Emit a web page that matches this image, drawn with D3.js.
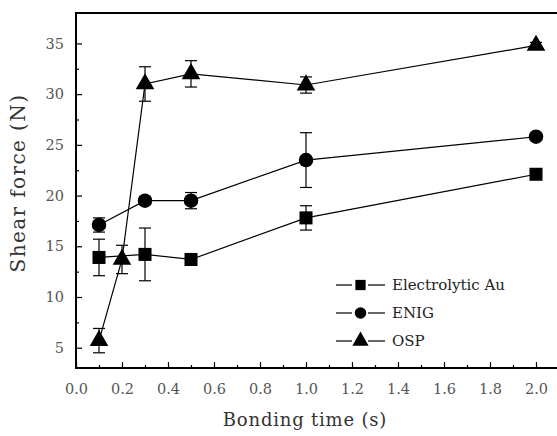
<!DOCTYPE html>
<html>
<head>
<meta charset="utf-8">
<script src="https://cdn.jsdelivr.net/npm/d3@7"></script>
<style>
  body { margin: 0; background: #fff; }
  #wrapper svg { display: block; }
</style>
</head>
<body>
<div id="wrapper"></div>
<script>
// Data
const seriesNames = ["Electrolytic Au", "ENIG", "OSP"]
const seriesShapes = ["square", "circle", "triangle"]

const auTime = [0.1, 0.3, 0.5, 1.0, 2.0]
const auForce = [13.9, 14.2, 13.7, 17.8, 22.1]
const auErr = [1.8, 2.6, 0.3, 1.2, 0.5]

const enigTime = [0.1, 0.3, 0.5, 1.0, 2.0]
const enigForce = [17.1, 19.5, 19.5, 23.5, 25.8]
const enigErr = [0.7, 0.4, 0.8, 2.7, 0.3]

const ospTime = [0.1, 0.2, 0.3, 0.5, 1.0, 2.0]
const ospForce = [5.7, 13.7, 31.0, 32.0, 30.9, 34.8]
const ospErr = [1.2, 1.4, 1.7, 1.3, 0.8, 0.3]

const xTicks = [0.0, 0.2, 0.4, 0.6, 0.8, 1.0, 1.2, 1.4, 1.6, 1.8, 2.0]
const yTicks = [5, 10, 15, 20, 25, 30, 35]

function drawChart() {
  const dms = {
    width: 557,
    height: 436,
    margin: { top: 13, right: -2, bottom: 68, left: 76 },
  }
  dms.boundedWidth = dms.width - dms.margin.left - dms.margin.right
  dms.boundedHeight = dms.height - dms.margin.top - dms.margin.bottom

  const font = "'DejaVu Serif', 'Liberation Serif', serif"

  const svg = d3.select("#wrapper").append("svg")
    .attr("width", dms.width)
    .attr("height", dms.height)

  const bounds = svg.append("g")
    .attr("transform", `translate(${dms.margin.left},${dms.margin.top})`)

  const xScale = d3.scaleLinear()
    .domain([0, 2.1])
    .range([0, dms.boundedWidth])

  const yScale = d3.scaleLinear()
    .domain([3, 38])
    .range([dms.boundedHeight, 0])

  // minor ticks
  const xMinor = d3.range(0.1, 2.1, 0.2)
  const yMinor = d3.range(2.5, 35, 5).filter(v => v > 3)

  const xAxis = bounds.append("g")
    .attr("transform", `translate(0,${dms.boundedHeight})`)
    .call(d3.axisBottom(xScale).tickValues(xTicks).tickFormat(d3.format(".1f"))
      .tickSizeInner(-6).tickSizeOuter(0).tickPadding(16))
  xAxis.select(".domain").remove()

  const xAxisMinor = bounds.append("g")
    .attr("transform", `translate(0,${dms.boundedHeight})`)
    .call(d3.axisBottom(xScale).tickValues(xMinor).tickFormat("")
      .tickSizeInner(-3).tickSizeOuter(0))
  xAxisMinor.select(".domain").remove()

  const yAxis = bounds.append("g")
    .call(d3.axisLeft(yScale).tickValues(yTicks).tickFormat(d3.format("d"))
      .tickSizeInner(-6).tickSizeOuter(0).tickPadding(12))
  yAxis.select(".domain").remove()

  const yAxisMinor = bounds.append("g")
    .call(d3.axisLeft(yScale).tickValues(yMinor).tickFormat("")
      .tickSizeInner(-3).tickSizeOuter(0))
  yAxisMinor.select(".domain").remove()

  bounds.selectAll(".tick line").attr("stroke", "#000").attr("stroke-width", 1.2)
  bounds.selectAll(".tick text")
    .attr("font-family", font)
    .attr("font-size", "14.5px")
    .attr("fill", "#555")

  // frame
  bounds.append("path")
    .attr("d", `M${xScale(2.1)},0 H0 V${dms.boundedHeight} H${xScale(2.1)}`)
    .attr("fill", "none")
    .attr("stroke", "#000")
    .attr("stroke-width", 2)

  const series = [
    { t: auTime, v: auForce, e: auErr },
    { t: enigTime, v: enigForce, e: enigErr },
    { t: ospTime, v: ospForce, e: ospErr },
  ]

  const symbolType = {
    square: d3.symbolSquare,
    circle: d3.symbolCircle,
    triangle: d3.symbolTriangle,
  }
  const symbolSize = { square: 170, circle: 165, triangle: 150 }

  const line = d3.line()
    .x(d => xScale(d.t))
    .y(d => yScale(d.v))

  series.forEach((s, i) => {
    const pts = s.t.map((t, j) => ({ t, v: s.v[j], e: s.e[j] }))
    const g = bounds.append("g")
    const shape = seriesShapes[i]

    g.append("path")
      .datum(pts)
      .attr("d", line)
      .attr("fill", "none")
      .attr("stroke", "#000")
      .attr("stroke-width", 1.2)

    const capW = 6
    const err = g.selectAll(".err").data(pts).join("g")
    err.append("line")
      .attr("x1", d => xScale(d.t)).attr("x2", d => xScale(d.t))
      .attr("y1", d => yScale(d.v - d.e)).attr("y2", d => yScale(d.v + d.e))
      .attr("stroke", "#000").attr("stroke-width", 1.2)
    err.append("line")
      .attr("x1", d => xScale(d.t) - capW).attr("x2", d => xScale(d.t) + capW)
      .attr("y1", d => yScale(d.v + d.e)).attr("y2", d => yScale(d.v + d.e))
      .attr("stroke", "#000").attr("stroke-width", 1.2)
    err.append("line")
      .attr("x1", d => xScale(d.t) - capW).attr("x2", d => xScale(d.t) + capW)
      .attr("y1", d => yScale(d.v - d.e)).attr("y2", d => yScale(d.v - d.e))
      .attr("stroke", "#000").attr("stroke-width", 1.2)

    g.selectAll(".mk").data(pts).join("path")
      .attr("d", d3.symbol().type(symbolType[shape]).size(symbolSize[shape]))
      .attr("transform", d => `translate(${xScale(d.t)},${yScale(d.v)})`)
      .attr("fill", "#000")
  })

  // legend
  const legend = svg.append("g")
    .attr("transform", "translate(336,285)")
  seriesNames.forEach((name, i) => {
    const shape = seriesShapes[i]
    const row = legend.append("g").attr("transform", `translate(0,${i * 28})`)
    row.append("line")
      .attr("x1", 0).attr("x2", 16).attr("y1", 0).attr("y2", 0)
      .attr("stroke", "#000").attr("stroke-width", 1.2)
    row.append("line")
      .attr("x1", 32).attr("x2", 49).attr("y1", 0).attr("y2", 0)
      .attr("stroke", "#000").attr("stroke-width", 1.2)
    row.append("path")
      .attr("d", d3.symbol().type(symbolType[shape])
        .size(shape === "triangle" ? 115 : 105))
      .attr("transform", "translate(24.5,0)")
      .attr("fill", "#000")
    row.append("text")
      .attr("x", 56)
      .attr("y", 5)
      .attr("font-family", font)
      .attr("font-size", "15px")
      .attr("fill", "#222")
      .text(name)
  })

  // axis titles
  svg.append("text")
    .attr("x", 305)
    .attr("y", 426)
    .attr("text-anchor", "middle")
    .attr("font-family", font)
    .attr("font-size", "18px")
    .attr("letter-spacing", "0.8px")
    .attr("fill", "#333")
    .text("Bonding time (s)")

  svg.append("text")
    .attr("transform", "translate(25,183) rotate(-90)")
    .attr("text-anchor", "middle")
    .attr("font-family", font)
    .attr("font-size", "20px")
    .attr("letter-spacing", "1.4px")
    .attr("fill", "#333")
    .text("Shear force (N)")
}

drawChart()
</script>
</body>
</html>
